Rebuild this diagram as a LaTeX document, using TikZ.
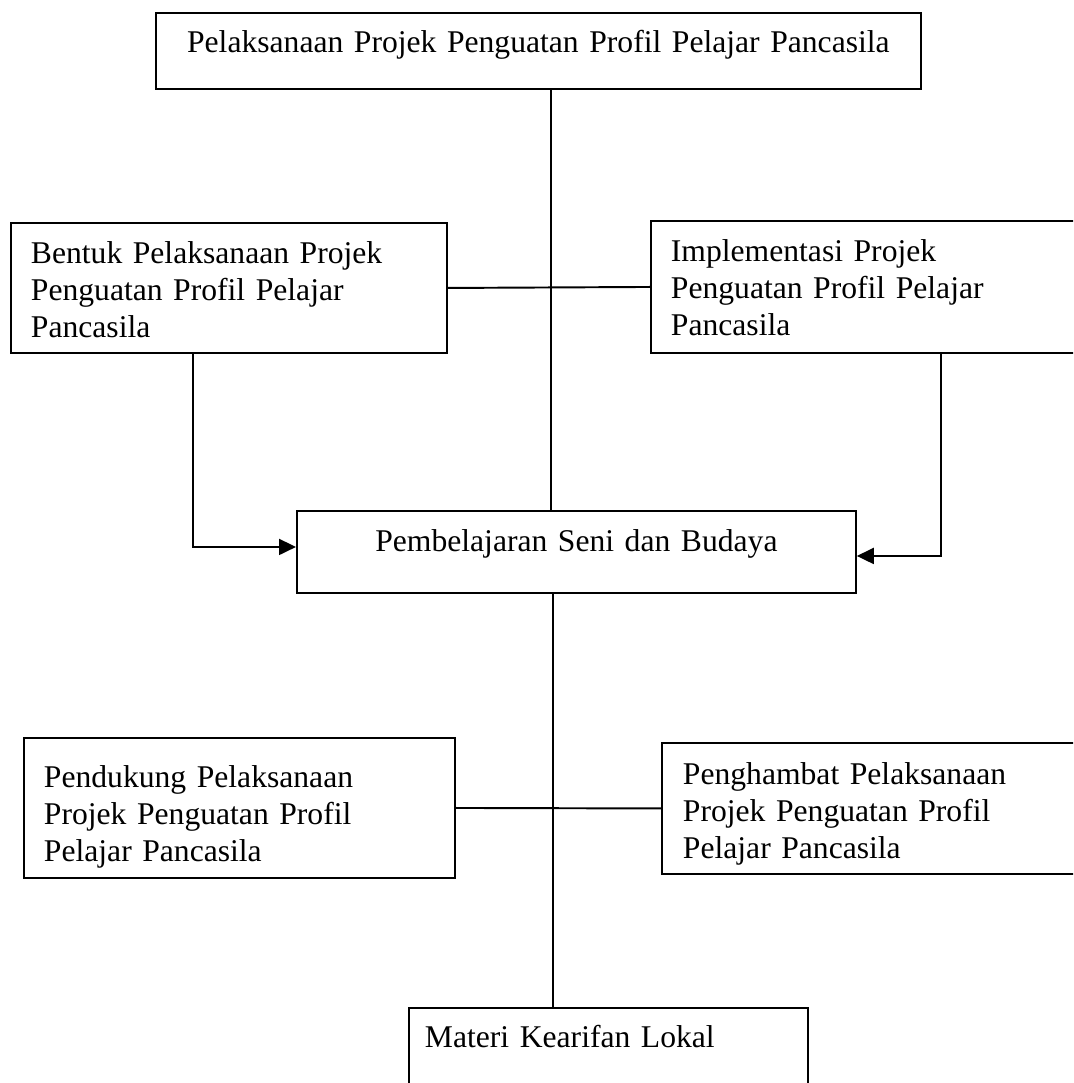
\documentclass[tikz,border=0pt]{standalone}
\usepackage{fontspec}
\setmainfont{Liberation Serif}
\usetikzlibrary{arrows.meta,positioning,calc}

\begin{document}
\begin{tikzpicture}[x=0.02cm,y=-0.02cm,line width=1.1pt,
    font=\fontsize{18}{21}\selectfont,
    box/.style={draw,anchor=north west,inner xsep=0.4cm,inner ysep=0pt,align=left},
    midbox/.style={box,align=center},
    >={Triangle[length=0.34cm,width=0.32cm]}]
    \useasboundingbox (0,0) rectangle (1073,1083);
    \clip (0,0) rectangle (1073,1083);

    \node[midbox,text width=14.5cm,text height=0.8cm,text depth=0.72cm] (plan) at (155,12) {Pelaksanaan Projek Penguatan Profil Pelajar Pancasila};
    \node[box,text width=7.92cm,text height=0.82cm,text depth=1.78cm] (bentuk) at (10,222) {Bentuk Pelaksanaan Projek\\Penguatan Profil Pelajar\\Pancasila};
    \node[box,text width=8.2cm,text height=0.82cm,text depth=1.82cm] (impl) at (650,220) {Implementasi Projek\\Penguatan Profil Pelajar\\Pancasila};
    \node[midbox,text width=10.38cm,text height=0.82cm,text depth=0.82cm] (seni) at (296,510) {Pembelajaran Seni dan Budaya};
    \node[box,text width=7.82cm,text height=1.0cm,text depth=1.8cm] (dukung) at (23,737) {Pendukung Pelaksanaan\\Projek Penguatan Profil\\Pelajar Pancasila};
    \node[box,inner xsep=0.42cm,text width=8.16cm,text height=0.84cm,text depth=1.78cm] (hambat) at (661,742) {Penghambat Pelaksanaan\\Projek Penguatan Profil\\Pelajar Pancasila};
    \node[box,inner xsep=0.32cm,text width=7.34cm,text height=0.8cm,text depth=1cm] (materi) at (408,1007) {Materi Kearifan Lokal};

    \draw (551,0 |- plan.south) -- (551,0 |- seni.north);
    \draw (bentuk.east) -- (impl.west);
    \draw[->] (193,0 |- bentuk.south) |- ($(seni.west)+(0,-5)$);
    \draw[->] (941,0 |- impl.south) |- ($(seni.east)+(0,4)$);
    \draw (553,0 |- seni.south) -- (553,0 |- materi.north);
    \draw (dukung.east) -- (hambat.west);
\end{tikzpicture}
\end{document}
